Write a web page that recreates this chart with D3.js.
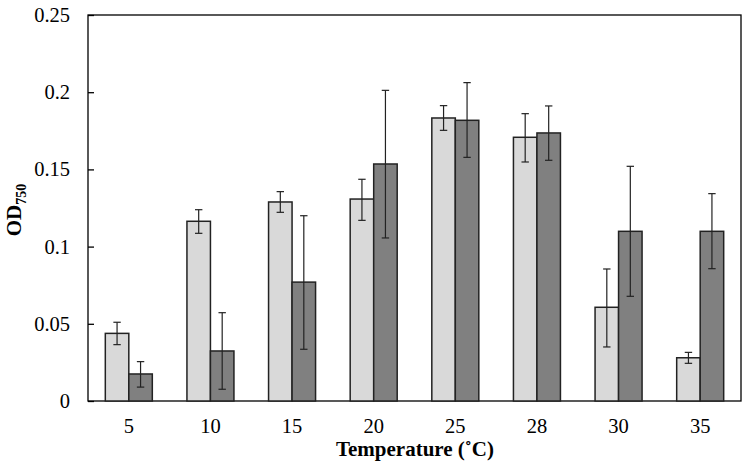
<!DOCTYPE html>
<html><head><meta charset="utf-8">
<script src="https://cdn.jsdelivr.net/npm/d3@7"></script>
<style>body{margin:0;background:#fff}svg{display:block}</style>
</head><body>
<svg id="c" width="746" height="468"></svg>
<script>
const categories = ["5","10","15","20","25","28","30","35"];
const seriesA = [0.0438,0.1164,0.1289,0.1308,0.1833,0.1708,0.0607,0.0280];
const errA_hi = [0.0510,0.1239,0.1356,0.1436,0.1913,0.1861,0.0855,0.0315];
const errA_lo = [0.0365,0.1086,0.1222,0.1170,0.1753,0.1548,0.0350,0.0244];
const seriesB = [0.0175,0.0324,0.0770,0.1535,0.1818,0.1736,0.1099,0.1099];
const errB_hi = [0.0255,0.0572,0.1200,0.2012,0.2062,0.1911,0.1520,0.1343];
const errB_lo = [0.0090,0.0076,0.0335,0.1056,0.1578,0.1559,0.0678,0.0857];
const yTicks = [0,0.05,0.1,0.15,0.2,0.25];
const colors = ["#d9d9d9","#808080"];
const FONT = "'Liberation Serif','Times New Roman',serif";

const svg = d3.select("#c");
const L=88, R=741, T=15, B=401;
const x = d3.scaleBand().domain(categories).range([L,R]);
const y = d3.scaleLinear().domain([0,0.25]).range([B,T]);
const barW = 23.5;

const series = [
  {vals:seriesA, hi:errA_hi, lo:errA_lo, off:-barW, color:colors[0]},
  {vals:seriesB, hi:errB_hi, lo:errB_lo, off:0, color:colors[1]}
];

// frame
svg.append("rect").attr("x",L).attr("y",T).attr("width",R-L).attr("height",B-T)
  .attr("fill","none").attr("stroke","#000").attr("stroke-width",1.3);

// y axis
const yAxis = d3.axisLeft(y).tickValues(yTicks).tickSize(0).tickPadding(18)
  .tickFormat(d=>d===0?"0":String(+d.toFixed(2)));
const ga = svg.append("g").attr("transform",`translate(${L},0)`).call(yAxis);
ga.select(".domain").remove();
ga.selectAll("text").style("font-family",FONT).style("font-size","20.5px").attr("fill","#000");
ga.selectAll(".tick").append("line").attr("x1",0).attr("x2",6).attr("stroke","#000").attr("stroke-width",1.3);

// x axis labels
const xAxis = d3.axisBottom(x).tickSize(0).tickPadding(17);
const gx = svg.append("g").attr("transform",`translate(0,${B})`).call(xAxis);
gx.select(".domain").remove();
gx.selectAll("text").style("font-family",FONT).style("font-size","20.5px").attr("fill","#000");

series.forEach(s=>{
  const g = svg.append("g");
  g.selectAll("rect").data(categories).join("rect")
    .attr("x",d=>x(d)+x.bandwidth()/2+s.off)
    .attr("y",(d,i)=>y(s.vals[i]))
    .attr("width",barW)
    .attr("height",(d,i)=>y(0)-y(s.vals[i]))
    .attr("fill",s.color).attr("stroke","#222").attr("stroke-width",1.5);
});
series.forEach(s=>{
  const g = svg.append("g").attr("stroke","#222").attr("stroke-width",1.2);
  categories.forEach((d,i)=>{
    const cx = x(d)+x.bandwidth()/2+s.off+barW/2;
    g.append("line").attr("x1",cx).attr("x2",cx).attr("y1",y(s.hi[i])).attr("y2",y(s.lo[i]));
    g.append("line").attr("x1",cx-3.7).attr("x2",cx+3.7).attr("y1",y(s.hi[i])).attr("y2",y(s.hi[i]));
    g.append("line").attr("x1",cx-3.7).attr("x2",cx+3.7).attr("y1",y(s.lo[i])).attr("y2",y(s.lo[i]));
  });
});

// axis titles
svg.append("text").attr("x",415).attr("y",456).attr("text-anchor","middle")
  .style("font-family",FONT).style("font-size","21px").style("font-weight","bold").text("Temperature (˚C)");
const yl = svg.append("text").attr("transform",`translate(21,210) rotate(-90)`)
  .attr("text-anchor","middle").style("font-family",FONT).style("font-size","21px").style("font-weight","bold");
yl.append("tspan").text("OD");
yl.append("tspan").style("font-size","14px").attr("dy",5).text("750");
</script>
</body></html>
